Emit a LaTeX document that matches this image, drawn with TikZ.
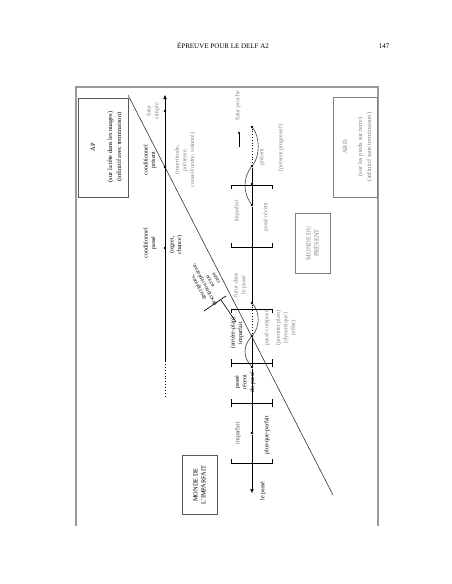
\documentclass[tikz,border=0pt]{standalone}
\usepackage{fontspec}
\setmainfont{Liberation Serif}
\usetikzlibrary{arrows.meta}
\definecolor{txtgray}{gray}{0.5}
\definecolor{boxgray}{gray}{0.35}
\definecolor{framegray}{gray}{0.6}
\begin{document}
\begin{tikzpicture}[x=1pt,y=-1pt,
  lbl/.style={font=\fontsize{6}{7.6}\selectfont, align=center, rotate=90, inner sep=0pt},
  glbl/.style={lbl, text=txtgray},
  boxlbl/.style={lbl, font=\fontsize{6.4}{9}\selectfont},
  bxst/.style={draw=boxgray, line width=0.9pt},
  dotst/.style={circle, fill=black, inner sep=0pt, minimum size=2.6pt},
  axst/.style={line width=0.9pt},
  brk/.style={line width=0.8pt},
  arcst/.style={line width=0.6pt, black!75},
  tip/.style={-{Triangle[length=4pt,width=3.2pt]}},
]
\useasboundingbox (0,0) rectangle (452,584);

% header
\node[font=\fontsize{7}{8}\selectfont, inner sep=0pt] (hdr) at (223,46) {ÉPREUVE POUR LE DELF A2};
\node[font=\fontsize{7}{8}\selectfont, inner sep=0pt] (pg) at (384,46) {147};

% frame
\draw[draw=framegray, line width=1.3pt] (76,526) -- (76,87) -- (378,87) -- (378,526);

% boxes
\draw[bxst] (78,98) rectangle (128,197);
\node[boxlbl] (ap) at (93,147) {AP};
\node[boxlbl] (apt) at (115,147) {(sur la tête dans les nuages)\\(infinitif avec terminaison)};

\draw[bxst, draw=txtgray] (333,97) rectangle (377,197);
\node[boxlbl, text=txtgray] (ard) at (345,147) {ARD};
\node[boxlbl, text=txtgray] (ardt) at (365,147) {(sur les pieds sur terre)\\(infinitif sans terminaison)};

\draw[bxst, draw=txtgray] (295,213) rectangle (330,273);
\node[lbl, text=txtgray, font=\fontsize{6.4}{8}\selectfont] (mp) at (312.5,243) {MONDE DU\\PRÉSENT};

\draw[bxst] (182,455) rectangle (217,514);
\node[lbl, font=\fontsize{6.4}{8}\selectfont] (mi) at (199.5,485) {MONDE DE\\L'IMPARFAIT};

% diagonal
\coordinate (dg1) at (128,95);
\coordinate (dg2) at (333,495);
\draw[line width=0.6pt, black!80] (dg1) -- (dg2);

% upper axis (AP)
\coordinate (u0) at (165,95);
\coordinate (u1) at (165,361);
\coordinate (u2) at (165,398);
\draw[axst, tip] (u1) -- (u0);
\draw[line width=0.9pt, dotted] (u1) -- (u2);
\node[dotst] (ud1) at (165,111) {};
\node[dotst] (ud2) at (165,167) {};
\node[dotst] (ud3) at (165,248) {};

\node[glbl] (fs) at (153,111) {futur\\simple};
\node[lbl] (cpr) at (150,160) {conditionnel\\présent};
\node[glbl] (inc) at (185,160) {(incertitude,\\politesse,\\conseil/ordre, volonté)};
\node[lbl] (cpa) at (150,243) {conditionnel\\passé};
\node[lbl] (reg) at (176,245) {(regret,\\chance)};

% lower axis (present)
\node[dotst] (l1) at (252,127) {};
\node[dotst] (l2) at (252,166) {};
\node[dotst] (l3) at (252,184) {};
\node[dotst] (l4) at (252,205) {};
\node[dotst] (l5) at (252,303) {};
\node[dotst] (l6) at (252,336) {};
\node[dotst] (l7) at (252,367) {};
\node[dotst] (l8) at (252,433) {};
\coordinate (ltip) at (252,493);

\draw[line width=0.8pt, dotted] (l1) -- (l2);
\draw[axst] (l2) -- (l3) -- (l4) -- (l5);
\draw[line width=0.8pt, dotted] (l5) -- (l6);
\draw[axst] (l6) -- (l7) -- (l8);
\draw[axst, tip] (l8) -- (ltip);

\draw[arcst] (l1) .. controls (260,137) and (260,156) .. (l2);
\draw[arcst] (l2) .. controls (243,178) and (243,193) .. (l4);
\draw[arcst] (l5) .. controls (260,313) and (260,326) .. (l6);
\draw[arcst] (l6) .. controls (243,346) and (243,357) .. (l7);

% brackets
\draw[brk] (231,189) -- (231,185) -- (272,185) -- (272,189);
\draw[brk] (231,243) -- (231,247) -- (272,247) -- (272,243);
\draw[brk] (231,313) -- (231,309) -- (272,309) -- (272,313);
\draw[brk] (231,359) -- (231,367) (231,363) -- (272,363) (272,359) -- (272,367);
\draw[brk] (231,399) -- (231,407) (231,403) -- (272,403) (272,399) -- (272,407);
\draw[brk] (231,459) -- (231,463) -- (272,463) -- (272,459);

% futur proche
\coordinate (fpa) at (239,147);
\coordinate (fpb) at (239,131);
\draw[line width=0.6pt, -{Latex[length=2.5pt,width=2.2pt]}] (fpa) -- (fpb);
\node[glbl] (fp) at (238,106) {futur proche};

% segment labels
\node[glbl] (pres) at (262,157) {présent};
\node[glbl] (prog) at (281,148) {[présent progressif]};
\node[glbl] (imp1) at (237,211) {imparfait};
\node[glbl] (pr1) at (266,217) {passé récent};
\node[glbl] (fdp) at (240,285) {futur dans\\le passé};
\node[lbl] (arr) at (237,333) {(arrière-plan)\\imparfait};
\node[glbl] (pc) at (267,328) {passé composé};
\node[glbl] (prem) at (286,328) {(premier plan)\\(dynamique)\\(effet)};
\node[lbl] (prp) at (245,382) {passé\\récent\\du passé};
\node[lbl, text=black!75] (imp2) at (238,433) {imparfait};
\node[lbl] (pqp) at (267,435) {plus-que-parfait};
\node[lbl] (lp) at (263,491) {le passé};

% callout
\node[font=\fontsize{5.4}{6.6}\selectfont, align=center, inner sep=0pt, rotate=118] (desc) at (207,283) {descriptions,\\description répétitive,\\action\\cause};
\coordinate (cb1) at (204,311);
\coordinate (cb2) at (226,296);
\coordinate (cp1) at (221,300);
\coordinate (cp2) at (236,322);
\draw[line width=0.7pt] (cb1) -- (cb2);
\draw[line width=0.6pt] (cp1) -- (cp2);
\end{tikzpicture}
\end{document}
